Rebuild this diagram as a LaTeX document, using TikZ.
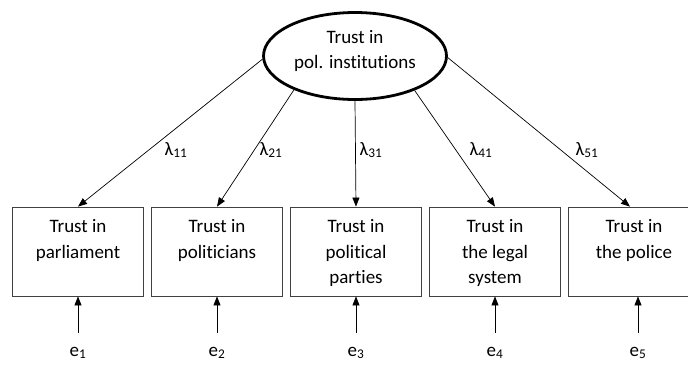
\documentclass[tikz,border=0pt]{standalone}
\usepackage{fontspec}
\setmainfont{Carlito}[Ligatures={NoCommon}]
\usetikzlibrary{arrows.meta,shapes.geometric}
\begin{document}
\begin{tikzpicture}[x=1pt,y=-1pt,
  every node/.style={font=\fontsize{19}{25.5}\selectfont},
  latent/.style={draw, ellipse, line width=2.8pt, minimum width=183pt, minimum height=87pt, inner sep=0pt, align=center,
    execute at begin node=\rule{0pt}{12pt}, execute at end node=\rule[-13pt]{0pt}{13pt}},
  obs/.style={draw=black!75, line width=0.8pt, minimum width=131pt, minimum height=89pt, inner sep=0pt, align=center,
    execute at begin node=\rule{0pt}{72.6pt}, execute at end node=\strut},
  load/.style={draw, line width=0.7pt, -{Triangle[length=9pt,width=7pt]}},
  lam/.style={inner sep=0pt},
  err/.style={inner sep=1pt},
]
\clip (0,0) rectangle (688,365);
\node[latent] (ell) at (355,56) {Trust in\\pol. institutions};

\node[obs] (b1) at (78,251.5)  {Trust in\\parliament\\};
\node[obs] (b2) at (217,251.5) {Trust in\\politicians\\};
\node[obs] (b3) at (356,251.5) {Trust in\\political\\parties};
\node[obs] (b4) at (495,251.5) {Trust in\\the legal\\system};
\node[obs] (b5) at (634,251.5) {Trust in\\the police\\};

\draw[load] (ell.182) -- (b1.north);
\draw[load] (ell.209) -- (b2.north);
\draw[load] (ell.270) -- (b3.north);
\draw[load] (ell.330) -- (b4.north);
\draw[load] (ell.359) -- ([xshift=-4pt]b5.north);

\node[lam] (l1) at (176,150) {λ\textsubscript{11}};
\node[lam] (l2) at (271,150) {λ\textsubscript{21}};
\node[lam] (l3) at (371,150) {λ\textsubscript{31}};
\node[lam] (l4) at (481,150) {λ\textsubscript{41}};
\node[lam] (l5) at (587,150) {λ\textsubscript{51}};

\node[err] (e1) at (78,353)  {e\textsubscript{1}};
\node[err] (e2) at (217,353) {e\textsubscript{2}};
\node[err] (e3) at (356,353) {e\textsubscript{3}};
\node[err] (e4) at (495,353) {e\textsubscript{4}};
\node[err] (e5) at (638,353) {e\textsubscript{5}};

\foreach \i in {1,...,4} {
  \draw[load, shorten <=13pt] (e\i) -- (b\i);
}
\draw[load, shorten <=13pt] (e5) -- (e5 |- b5.south);
\end{tikzpicture}
\end{document}
